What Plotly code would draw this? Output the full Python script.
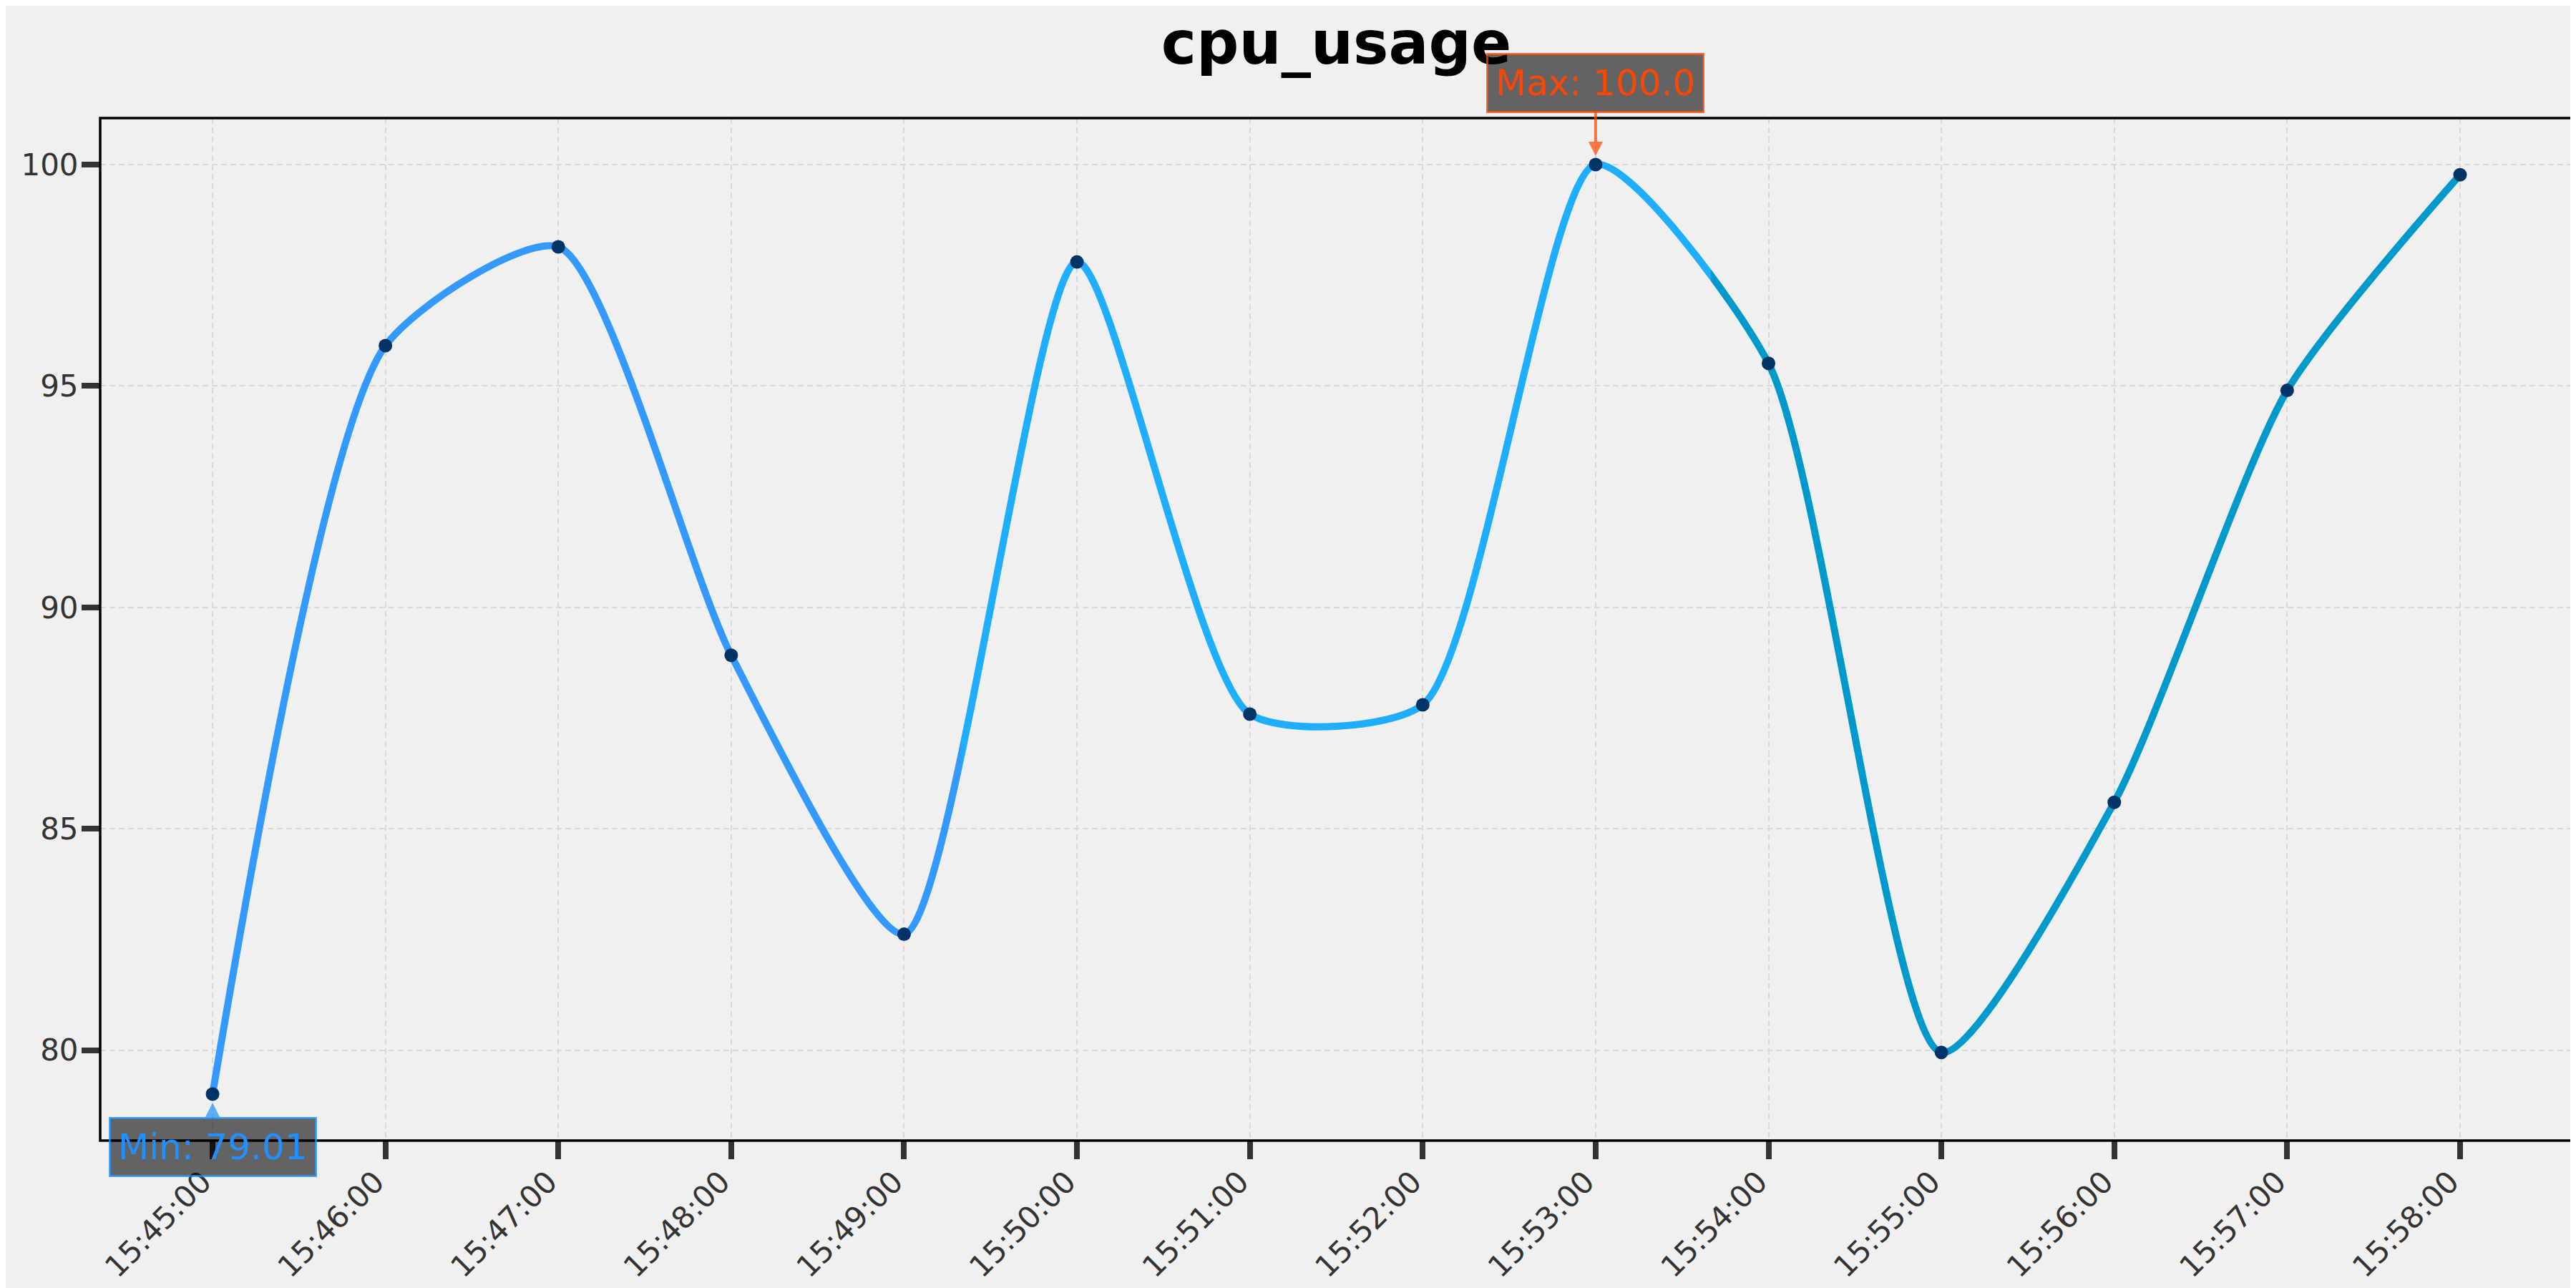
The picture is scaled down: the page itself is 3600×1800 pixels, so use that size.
import pandas as pd
import plotly.graph_objects as go

# ---------------- data ----------------
times = ["15:45:00", "15:46:00", "15:47:00", "15:48:00", "15:49:00", "15:50:00", "15:51:00",
         "15:52:00", "15:53:00", "15:54:00", "15:55:00", "15:56:00", "15:57:00", "15:58:00"]
cpu_values = [79.01, 95.91, 98.14, 88.92, 82.62, 97.80, 87.59,
              87.80, 100.0, 95.51, 79.95, 85.60, 94.90, 99.77]
y_ticks = [80, 85, 90, 95, 100]
segment_colors = ["#3399ff", "#1fadff", "#0099cc"]
title_text = "cpu_usage"
base_date = "2024-01-01"

# ---------------- styling ----------------
BG = "#f0f0f0"
FONT = "DejaVu Sans"
W, H = 3600, 1800
ML, MR, MT, MB = 132, 13, 157, 214
TICK_FONT = 42

x_dt = pd.to_datetime([f"{base_date} {t}" for t in times])
span = x_dt[-1] - x_dt[0]
pad = span * 0.05
x0, x1 = x_dt[0] - pad, x_dt[-1] + pad
full = (x1 - x0)

ymin, ymax = min(cpu_values), max(cpu_values)
ypad = (ymax - ymin) * 0.05
yrange = [ymin - ypad, ymax + ypad]

splits = [x_dt[0] + span * k / 3 for k in (1, 2)]
bounds = [x0] + splits + [x1]
domains = [((bounds[i] - x0) / full, (bounds[i + 1] - x0) / full) for i in range(3)]

fig = go.Figure()
axis_names = ["x", "x2", "x3"]
for i in range(3):
    fig.add_trace(go.Scatter(
        x=x_dt, y=cpu_values, mode="lines+markers",
        line=dict(color=segment_colors[i], width=10, shape="spline", smoothing=0.65),
        marker=dict(color="#003366", size=19, line=dict(width=0)),
        xaxis=axis_names[i], yaxis="y", showlegend=False, hoverinfo="x+y",
    ))

tick_labels = times
xaxis_common = dict(
    type="date", tickmode="array", tickvals=list(x_dt), ticktext=tick_labels,
    tickangle=-45, ticks="outside", ticklen=25, tickwidth=8, tickcolor="#333333",
    tickfont=dict(family=FONT, size=TICK_FONT, color="#333333"),
    ticklabelshift=-14, ticklabelstandoff=-10,
    showgrid=True, gridcolor="#d9d9d9", gridwidth=2, griddash="8px,5px",
    showline=False, zeroline=False, anchor="y", automargin=False,
)
layout_axes = {}
for i in range(3):
    key = "xaxis" if i == 0 else f"xaxis{i + 1}"
    layout_axes[key] = dict(xaxis_common, domain=list(domains[i]),
                            range=[bounds[i].isoformat(), bounds[i + 1].isoformat()])

fig.update_layout(
    width=W, height=H,
    paper_bgcolor=BG, plot_bgcolor=BG,
    margin=dict(l=ML, r=MR, t=MT, b=MB, autoexpand=False),
    showlegend=False,
    title=dict(text=f"<b>{title_text}</b>", x=0.5, xref="paper", xanchor="center",
               y=1 - 52 / H, yref="container", yanchor="middle",
               font=dict(family=FONT, size=83, color="black")),
    yaxis=dict(range=yrange, tickmode="array", tickvals=y_ticks,
               ticks="outside", ticklen=25, tickwidth=8, tickcolor="#333333",
               tickfont=dict(family=FONT, size=TICK_FONT, color="#333333"),
               ticklabelstandoff=-4,
               showgrid=True, gridcolor="#d9d9d9", gridwidth=2, griddash="8px,5px",
               showline=False, zeroline=False, anchor="x", automargin=False),
    **layout_axes,
)

fig.add_shape(type="rect", xref="paper", yref="paper", x0=0, x1=1, y0=0, y1=1,
              line=dict(color="black", width=3.5), layer="above")


def axis_for(t):
    for i in range(3):
        if bounds[i] <= t <= bounds[i + 1]:
            return axis_names[i]
    return "x"


imax = cpu_values.index(ymax)
imin = cpu_values.index(ymin)
fig.add_annotation(
    x=x_dt[imax], y=ymax, xref=axis_for(x_dt[imax]), yref="y",
    text=f"Max: {ymax:.1f}", showarrow=True, ax=0, ay=-114,
    arrowhead=2, arrowsize=1, arrowwidth=4, arrowcolor="rgba(255,69,0,0.7)", standoff=12,
    font=dict(family=FONT, size=50, color="#ff4500"),
    bgcolor="rgba(0,0,0,0.59)", bordercolor="rgba(255,69,0,0.75)", borderwidth=3, borderpad=10,
)
fig.add_annotation(
    x=x_dt[imin], y=ymin, xref=axis_for(x_dt[imin]), yref="y",
    text=f"Min: {ymin:.2f}", showarrow=True, ax=0, ay=74,
    arrowhead=2, arrowsize=1, arrowwidth=4, arrowcolor="rgba(30,144,255,0.7)", standoff=12,
    font=dict(family=FONT, size=50, color="#1e90ff"),
    bgcolor="rgba(0,0,0,0.59)", bordercolor="rgba(30,144,255,0.75)", borderwidth=3, borderpad=10,
)

fig.write_html("out.html")
